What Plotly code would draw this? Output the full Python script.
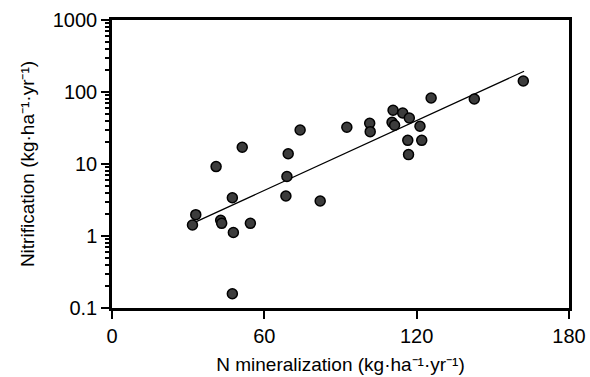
import plotly.graph_objects as go

# Data
n_min = [31.7, 33.0, 41.0, 42.8, 43.2, 47.4, 47.8, 47.4, 51.3, 54.5,
         68.5, 68.9, 69.4, 74.1, 82.0, 92.5, 101.5, 101.7, 110.3, 111.3,
         110.7, 114.5, 117.1, 116.5, 116.8, 121.3, 122.0, 125.7, 142.7, 162.0]
nitrif = [1.42, 1.98, 9.2, 1.65, 1.5, 3.4, 1.12, 0.158, 17.1, 1.5,
          3.6, 6.7, 13.9, 29.7, 3.06, 32.4, 36.7, 28.1, 37.9, 34.5,
          55.7, 51.0, 43.6, 21.3, 13.5, 33.4, 21.3, 82.6, 80.0, 142.0]

fit_x = [31.7, 162.3]
fit_y = [1.5, 194.0]

x_ticks = [0, 60, 120, 180]
y_ticks = [0.1, 1, 10, 100, 1000]
y_tick_labels = ["0.1", "1", "10", "100", "1000"]

minor_y = [m * 10 ** e for e in range(-1, 3) for m in range(2, 10)]

fig = go.Figure()
fig.add_trace(go.Scatter(x=fit_x, y=fit_y, mode="lines",
                         line=dict(color="black", width=1.3), showlegend=False))
fig.add_trace(go.Scatter(x=n_min, y=nitrif, mode="markers",
                         marker=dict(size=10, color="#3c3c3c",
                                     line=dict(color="black", width=1.5)),
                         showlegend=False))

fam = "Liberation Sans, Arial, sans-serif"
tick_font = dict(family=fam, size=20, color="black")
title_font = dict(family=fam, size=19, color="black")

fig.update_layout(
    width=590, height=377,
    margin=dict(l=112, r=21, t=20, b=69),
    paper_bgcolor="white", plot_bgcolor="white",
    font=title_font,
    xaxis=dict(range=[0, 180], tickvals=x_ticks, ticks="outside", ticklen=8,
               tickwidth=2, tickcolor="black", showline=True, linecolor="black",
               linewidth=2.5, mirror=True, showgrid=False, zeroline=False,
               automargin=False,
               title=dict(text="N mineralization (kg·ha⁻¹·yr⁻¹)", standoff=12,
                          font=title_font),
               tickfont=tick_font),
    yaxis=dict(type="log", range=[-1, 3], tickvals=y_ticks, ticktext=y_tick_labels,
               ticks="outside", ticklen=8, tickwidth=2, tickcolor="black",
               showline=True, linecolor="black", linewidth=2.5, mirror=True,
               showgrid=False, zeroline=False, automargin=False,
               minor=dict(tickvals=minor_y, ticks="outside", ticklen=4,
                          tickwidth=1.5, tickcolor="black", showgrid=False),
               title=dict(text="Nitrification (kg·ha⁻¹·yr⁻¹)", standoff=14,
                          font=title_font),
               tickfont=tick_font),
)

fig.write_html("out.html")
